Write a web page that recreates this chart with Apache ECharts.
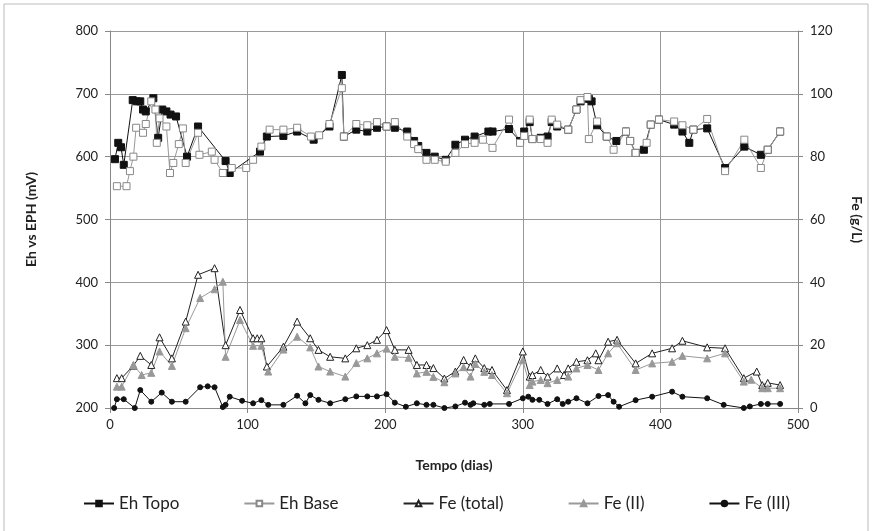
<!DOCTYPE html>
<html>
<head>
    <meta charset="utf-8">
    <title>Eh e Fe</title>
    <script src="https://cdn.jsdelivr.net/npm/echarts@6/dist/echarts.min.js"></script>
    <style>
        html, body { margin: 0; padding: 0; background: #fff; }
    </style>
</head>
<body>
<div id="main" style="width:873px;height:531px"></div>
<script type="text/javascript">
    // dados: [dia, valor]
    var ehTopo = [[3.6,596],[6,622],[8,615],[10,587],[16.5,690],[19.5,688],[22,688],[24,675],[26,672],[31.5,693],[35,630],[38,675],[41,672],[44,667],[48,664],[56,600],[64,648],[84,593],[87,574],[109,608],[114,632],[126,633],[136,640],[148,627],[159.5,648],[168.5,730],[170,632],[179,643],[187,640],[194,646],[201,648],[207,646],[216,640],[221,625],[224,617],[230,606],[236,600],[244,595],[251,619],[258,627],[265,632],[275,640],[278,640],[290,644],[298,625],[301,640],[305,655],[307,628],[313,630],[318,632],[321,655],[325,648],[333,643],[339,675],[342,688],[348,692],[350,688],[354,650],[361,632],[368,625],[375,640],[378,625],[382,606],[388,611],[393,651],[399,659],[410,651],[416,640],[421,622],[424,643],[434,645],[447,582],[461,616],[473,603],[478,611],[487,640]];
    var ehBase = [[5,553],[12,553],[14.5,577],[17,600],[19,646],[24,638],[26,652],[30,688],[33,675],[34,622],[36,661],[41,648],[43.6,574],[46,590],[50,620],[53,645],[55,590],[64,638],[65,603],[74,608],[76,595],[82,574],[88.5,582],[99,582],[104,595],[110,616],[116,643],[126,643],[136,646],[146,632],[152,634],[159.5,652],[168.5,709],[170,632],[179,652],[187,650],[194,655],[201,648],[207,655],[216,632],[221,620],[224,612],[230,595],[236,595],[244,592],[251,606],[258,620],[265,622],[271,627],[278,614],[290,659],[298,622],[301,633],[305,659],[307,628],[313,628],[318,622],[321,659],[325,651],[333,643],[339,675],[342,690],[347,695],[348,628],[354,656],[361,632],[366,611],[375,640],[378,625],[382,606],[390,622],[393,651],[399,659],[410,656],[416,650],[424,643],[434,660],[447,577],[461,627],[473,582],[478,611],[487,640]];
    var feTotal = [[5,9.5],[8.5,9.5],[17,13.5],[22,16.6],[30,13.7],[36,22.5],[45,15.8],[55,27.5],[64,42.4],[76,44.5],[84,20],[94.5,31.2],[104,22.2],[107,22.2],[110,22.2],[114,13.2],[126,19.5],[136,27.5],[145.5,22.2],[151.5,18.5],[160,16.3],[171,15.8],[179,19],[187,20],[194,21.7],[201,24.8],[207,18.5],[217,18.5],[223,13.7],[230,13.7],[235,12.7],[243,9.4],[251,11.6],[257,15.3],[262,13.2],[265.5,15.8],[272,12.7],[277.6,12.1],[288.5,5.7],[300,18],[305,10],[307,10.5],[313,12.1],[318,10],[325,12.6],[330,10.5],[333,12.6],[339,14.7],[347,15.2],[353,17.4],[355,15.2],[362,21.1],[368.5,21.7],[382,14.2],[394,17.4],[408.5,19],[416,21.4],[434,19.3],[447,19],[460.6,9.5],[470,11.6],[474,7.3],[478,8],[487,7.3]];
    var feII = [[5,6.8],[8.5,6.8],[17,13.7],[23,10.5],[30,11.2],[36,18],[45,13.4],[55,25.4],[65.5,35],[76,37.8],[82,40.2],[84,16.3],[94.5,28],[104,19.8],[110,19.8],[115,11.6],[126,18.6],[136,22.7],[145.5,19.3],[151.5,13.2],[160,11.6],[171,10],[179,14.3],[187,15.8],[194,17.4],[201,18.9],[207,16.3],[217,16],[223,11],[230,11.5],[235,9.9],[243,8.2],[251,11],[257,13],[262,10],[265.5,14],[272,11.5],[277.6,10.5],[288.5,4.7],[300,15.2],[305,7.3],[307,8.4],[313,8.9],[318,7.9],[325,8.9],[333,10],[339,12.6],[347,13.7],[355,12.1],[362,17.4],[368.5,20.6],[382,12.1],[394,14.2],[408.5,14.7],[416,16.6],[434,15.8],[447,17.4],[460.6,8.4],[466,9],[474,6.3],[478,6.3],[487,6.3]];
    var feIII = [[3,0],[5,2.8],[10,2.8],[18,0],[22,5.7],[30,2],[37.6,4.9],[45,2],[55,2],[65.5,6.6],[71,6.9],[76,6.6],[82,0.3],[84,1],[87,3.6],[96,2.3],[104,1.5],[110,2.5],[115,1],[126,1],[136,3.9],[142,1.5],[145.5,4.1],[151.5,2.6],[160,1.5],[171,2.8],[179,3.7],[187,3.7],[194,3.7],[201,4.4],[207,1.7],[215,0.4],[223,1.5],[230,1],[235,1],[243,0],[251,0.5],[258,1.7],[262,1],[264,1.5],[272,1],[276,1.3],[290,1.3],[300,3.1],[304,3.6],[307,2.6],[312,2.6],[318,1.3],[325,2.8],[329,1.3],[333,2],[339,3.1],[347,1.5],[355,3.8],[362,4.1],[366,2],[370,0.4],[382,2.5],[394,3.6],[408.5,5.2],[416,3.6],[434,3.1],[446,1],[460.6,0],[465,0.5],[473,1.3],[478,1.3],[487,1.3]];

    var seriesNames = ['Eh Topo', 'Eh Base', 'Fe (total)', 'Fe (II)', 'Fe (III)'];

    var myChart = echarts.init(document.getElementById('main'));
    var fonte = 'Lato, "Liberation Sans", sans-serif';

    function linha(nome, dados, eixo, simbolo, cor, corSimbolo, bordaSimbolo, tam) {
        return {
            name: nome,
            type: 'line',
            yAxisIndex: eixo,
            data: dados,
            symbol: simbolo,
            symbolSize: tam,
            showAllSymbol: true,
            animation: false,
            lineStyle: { color: cor, width: 1 },
            itemStyle: { color: corSimbolo, borderColor: bordaSimbolo, borderWidth: 1 }
        };
    }

    option = {
        backgroundColor: '#fff',
        textStyle: { fontFamily: fonte },
        graphic: [{
            type: 'rect',
            shape: { x: 4, y: 4, width: 864, height: 540 },
            style: { fill: 'none', stroke: '#bbb', lineWidth: 1 }
        }],
        grid: { left: 110, right: 75, top: 31, bottom: 123 },
        legend: {
            bottom: 14,
            left: 'center',
            itemGap: 64,
            itemWidth: 30,
            itemHeight: 7,
            textStyle: { fontSize: 17, color: '#222', fontFamily: fonte },
            data: seriesNames
        },
        xAxis: {
            type: 'value',
            min: 0, max: 500, interval: 100,
            name: 'Tempo (dias)',
            nameLocation: 'middle',
            nameGap: 50,
            nameTextStyle: { fontWeight: 'bold', fontSize: 14, color: '#222' },
            axisLine: { lineStyle: { color: '#888' } },
            axisTick: { show: true, lineStyle: { color: '#888' } },
            axisLabel: { fontSize: 13, color: '#222', margin: 10 },
            splitLine: { show: true, lineStyle: { color: '#999', width: 1 } }
        },
        yAxis: [{
            type: 'value',
            min: 200, max: 800, interval: 100,
            name: 'Eh vs EPH (mV)',
            nameLocation: 'middle',
            nameGap: 72,
            nameTextStyle: { fontWeight: 'bold', fontSize: 14, color: '#222' },
            axisLine: { show: true, lineStyle: { color: '#888' } },
            axisTick: { show: true, lineStyle: { color: '#888' } },
            axisLabel: { fontSize: 13, color: '#222', margin: 12 },
            splitLine: { show: true, lineStyle: { color: '#999', width: 1 } }
        }, {
            type: 'value',
            min: 0, max: 120, interval: 20,
            name: 'Fe (g/L)',
            nameLocation: 'middle',
            nameGap: 52,
            nameRotate: -90,
            nameTextStyle: { fontWeight: 'bold', fontSize: 14, color: '#222' },
            axisLine: { show: true, lineStyle: { color: '#888' } },
            axisTick: { show: true, lineStyle: { color: '#888' } },
            axisLabel: { fontSize: 13, color: '#222', margin: 12 },
            splitLine: { show: false }
        }],
        series: [
            linha('Eh Topo', ehTopo, 0, 'rect', '#111', '#111', '#111', 7),
            linha('Eh Base', ehBase, 0, 'rect', '#999', '#fff', '#888', 7),
            linha('Fe (total)', feTotal, 1, 'triangle', '#222', '#fff', '#222', 7),
            linha('Fe (II)', feII, 1, 'triangle', '#999', '#999', '#999', 7),
            linha('Fe (III)', feIII, 1, 'circle', '#111', '#111', '#111', 5)
        ]
    };
    myChart.setOption(option);
</script>
</body>
</html>
